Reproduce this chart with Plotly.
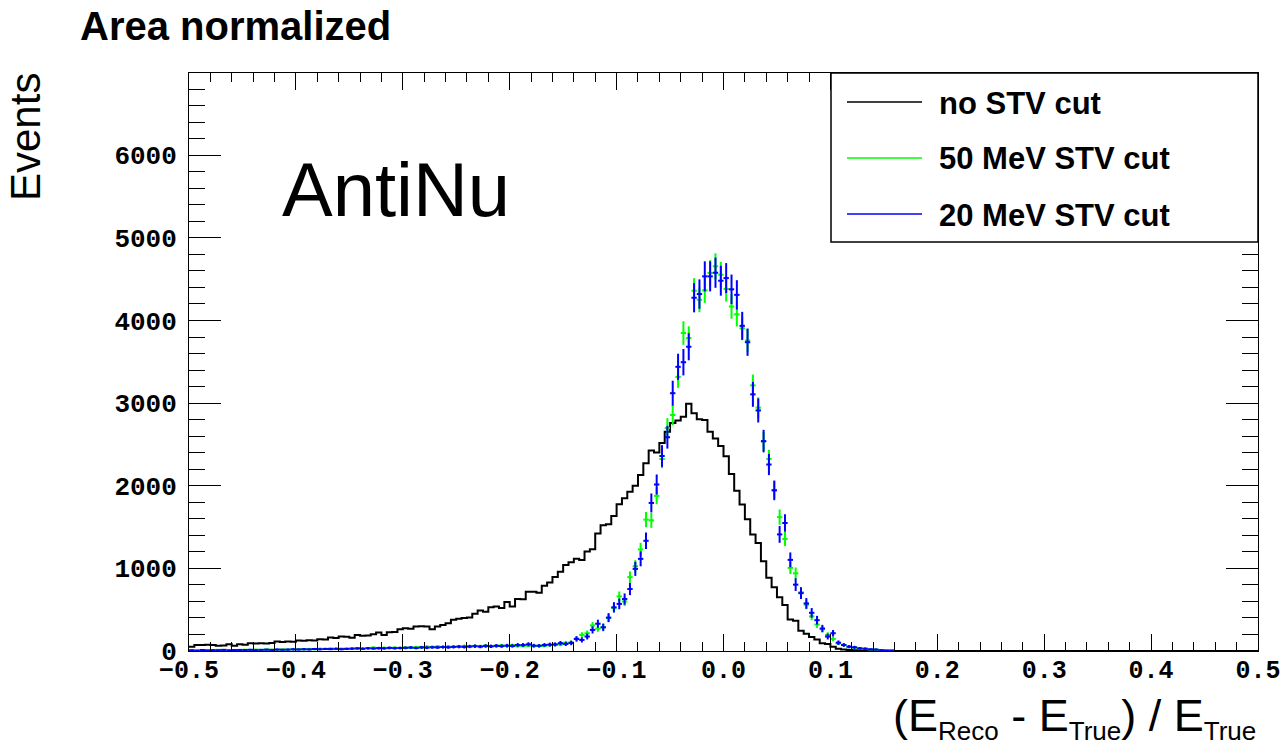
import numpy as np
import plotly.graph_objects as go

# Binning: 200 bins of width 0.005 on [-0.5, 0.5]
x_min, x_max, n_bins = -0.5, 0.5, 200
bin_width = (x_max - x_min) / n_bins

# Area-normalized event counts, no STV cut (black histogram)
no_cut = [
    52, 73, 72, 75, 73, 65, 66, 81, 65, 81,
    75, 93, 90, 95, 92, 96, 114, 110, 116, 112,
    126, 124, 130, 128, 142, 140, 162, 158, 175, 172,
    160, 195, 185, 188, 203, 223, 195, 227, 231, 264,
    276, 270, 296, 300, 296, 264, 296, 314, 335, 377,
    390, 400, 405, 450, 490, 475, 530, 540, 520, 592,
    540, 630, 625, 718, 718, 705, 790, 830, 895, 960,
    1040, 1075, 1115, 1100, 1204, 1232, 1423, 1521, 1533, 1634,
    1776, 1850, 1928, 1999, 2129, 2273, 2425, 2403, 2518, 2652,
    2760, 2790, 2834, 2993, 2877, 2806, 2796, 2652, 2573, 2480,
    2356, 2141, 1940, 1774, 1594, 1411, 1306, 1087, 885, 771,
    651, 557, 381, 365, 245, 209, 168, 138, 95, 85,
    52, 28, 18, 12, 9, 6, 5, 3, 3, 2,
    1, 1,
] + [0] * 68

# 50 MeV STV cut (green points)
cut50 = [
    10, 7, 9, 12, 8, 14, 10, 12, 9, 11,
    15, 12, 17, 13, 18, 16, 14, 19, 17, 21,
    22, 19, 25, 21, 27, 24, 30, 23, 28, 26,
    30, 34, 29, 36, 41, 33, 38, 35, 40, 37,
    42, 39, 47, 44, 52, 46, 55, 48, 53, 50,
    56, 60, 54, 62, 58, 66, 55, 64, 68, 60,
    70, 58, 60, 65, 58, 66, 62, 72, 75, 78,
    100, 105, 150, 195, 215, 310, 270, 290, 400, 518,
    661, 600, 894, 1026, 1229, 1590, 1582, 1877, 2324, 2698,
    2856, 3317, 3848, 3788, 4360, 4250, 4365, 4574, 4656, 4554,
    4382, 4169, 4075, 3905, 3757, 3215, 2945, 2534, 2324, 1950,
    1620, 1355, 1006, 940, 711, 560, 419, 320, 264, 195,
    146, 93, 73, 52, 40, 32, 26, 18, 16, 12,
    8, 10,
] + [0] * 68

# 20 MeV STV cut (blue points)
cut20 = [
    8, 5, 12, 6, 10, 9, 14, 7, 11, 13,
    12, 15, 10, 14, 16, 13, 18, 15, 17, 20,
    18, 22, 19, 24, 21, 25, 23, 27, 22, 26,
    28, 31, 27, 33, 30, 35, 32, 38, 34, 36,
    38, 42, 36, 44, 40, 46, 43, 48, 45, 50,
    52, 49, 55, 58, 53, 60, 57, 62, 59, 65,
    61, 73, 73, 81, 65, 62, 73, 77, 80, 95,
    85, 97, 146, 134, 175, 255, 330, 286, 404, 529,
    570, 629, 750, 994, 1115, 1334, 1792, 2015, 2360, 2587,
    3120, 3439, 3495, 3682, 4275, 4320, 4534, 4534, 4578, 4481,
    4513, 4377, 4310, 3935, 3737, 3106, 2911, 2540, 2257, 1944,
    1411, 1549, 1103, 803, 700, 576, 462, 373, 272, 175,
    215, 101, 73, 52, 45, 32, 28, 20, 18, 10,
    6, 4,
] + [0] * 68

# Per-event weights after area normalization (Poisson errors scale as sqrt(N * w))
weight50 = 5.3
weight20 = 7.3

edges = np.linspace(x_min, x_max, n_bins + 1)
centers = 0.5 * (edges[:-1] + edges[1:])

fig = go.Figure()

# Step histogram
fig.add_trace(go.Scatter(
    x=edges, y=list(no_cut) + [no_cut[-1]],
    mode="lines", line=dict(color="black", width=2, shape="hv"),
    showlegend=False, hoverinfo="skip",
))


def points(values, weight, color):
    v = np.array(values, dtype=float)
    keep = v > 0
    err = np.sqrt(v * weight)
    return go.Scatter(
        x=centers[keep], y=v[keep], mode="markers",
        marker=dict(size=0, color=color, opacity=0),
        error_y=dict(type="data", array=err[keep], color=color, thickness=2, width=0),
        error_x=dict(type="constant", value=bin_width / 2, color=color, thickness=2, width=0),
        showlegend=False, hoverinfo="skip",
    )


fig.add_trace(points(cut50, weight50, "#00ff00"))
fig.add_trace(points(cut20, weight20, "#0000ff"))

L, R, T, B = 189, 28, 73, 96
W, H = 1286, 747
pw, ph = W - L - R, H - T - B


def px_x(p):
    return (p - L) / pw


def px_y(p):
    return (H - B - p) / ph


x_tick_font = dict(family="Liberation Mono", size=25, color="black", weight="bold")
y_tick_font = dict(family="Liberation Mono", size=26, color="black", weight="bold")
x_ticks = [-0.5, -0.4, -0.3, -0.2, -0.1, 0.0, 0.1, 0.2, 0.3, 0.4, 0.5]

fig.update_layout(
    width=W, height=H, autosize=False,
    margin=dict(l=L, r=R, t=T, b=B, pad=0, autoexpand=False),
    paper_bgcolor="white", plot_bgcolor="white",
    xaxis=dict(
        range=[x_min, x_max], tickmode="array", tickvals=x_ticks,
        ticktext=[f"{v:.1f}".replace("-", "\u2212") for v in x_ticks],
        ticks="inside", ticklen=17, tickwidth=1, tickcolor="black",
        minor=dict(tickmode="linear", tick0=0, dtick=0.02, ticks="inside",
                   ticklen=9, tickwidth=1, tickcolor="black", showgrid=False),
        showline=True, linecolor="black", linewidth=1, mirror="allticks",
        showgrid=False, zeroline=False, tickfont=x_tick_font, ticklabelstandoff=-4,
        automargin=False,
    ),
    yaxis=dict(
        range=[0, 6995], tickmode="linear", tick0=0, dtick=1000,
        ticks="inside", ticklen=32, tickwidth=1, tickcolor="black",
        minor=dict(tickmode="linear", tick0=0, dtick=200, ticks="inside",
                   ticklen=16, tickwidth=1, tickcolor="black", showgrid=False),
        showline=True, linecolor="black", linewidth=1, mirror="allticks",
        showgrid=False, zeroline=False, tickfont=y_tick_font, ticklabelstandoff=6,
        automargin=False,
    ),
)

annotations = [
    dict(text="<b>Area normalized</b>", x=px_x(78), y=px_y(26), xanchor="left", yanchor="middle",
         font=dict(family="Liberation Sans", size=40, color="black")),
    dict(text="AntiNu", x=px_x(280), y=px_y(189), xanchor="left", yanchor="middle",
         font=dict(family="Liberation Sans", size=76, color="black")),
    dict(text="Events", x=px_x(26), y=px_y(71), xanchor="center", yanchor="top", textangle=-90,
         font=dict(family="Liberation Sans", size=42, color="black")),
    dict(text=("(E<sub><span style='font-size:26px'>Reco</span></sub> - "
               "E<sub><span style='font-size:26px'>True</span></sub>) / "
               "E<sub><span style='font-size:26px'>True</span></sub>"),
         x=1.0, y=px_y(748), xanchor="right", yanchor="bottom",
         font=dict(family="Liberation Sans", size=45, color="black")),
]

# Legend box
shapes = [dict(type="rect", xref="paper", yref="paper",
               x0=px_x(831), x1=1.0, y0=px_y(242), y1=1.0,
               line=dict(color="black", width=1.5), fillcolor="white")]
legend_items = [("no STV cut", "black", 102), ("50 MeV STV cut", "#00ff00", 158),
                ("20 MeV STV cut", "#0000ff", 214)]
for label, color, ypix in legend_items:
    shapes.append(dict(type="line", xref="paper", yref="paper",
                       x0=px_x(847), x1=px_x(922), y0=px_y(ypix), y1=px_y(ypix),
                       line=dict(color=color, width=1.5)))
    annotations.append(dict(text=f"<b>{label}</b>", x=px_x(937), y=px_y(ypix + 1),
                            xanchor="left", yanchor="middle",
                            font=dict(family="Liberation Sans", size=31, color="black")))

for a in annotations:
    a.update(xref="paper", yref="paper", showarrow=False)
fig.update_layout(annotations=annotations, shapes=shapes)

fig.write_html("out.html")
